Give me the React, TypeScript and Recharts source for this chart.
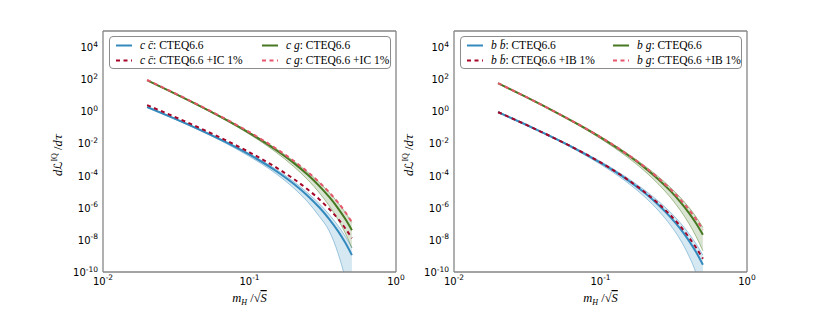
import React from 'react';
import { ComposedChart, Line, Area, XAxis, YAxis, Legend } from 'recharts';

// ---------- data ----------
const X = [0.02, 0.03, 0.04, 0.05, 0.07, 0.1, 0.15, 0.2, 0.25, 0.3, 0.35, 0.4, 0.45, 0.5];

// left panel: c cbar and c g
const CC = [1.862, 0.394, 0.125, 0.0493, 0.0112, 2.0e-3, 2.084e-4, 3.097e-5, 5.445e-6, 1.028e-6, 1.982e-7, 3.75e-8, 6.76e-9, 1.122e-9];
const CC_IC = [2.455, 0.505, 0.1589, 0.0631, 0.01476, 2.825e-3, 3.459e-4, 6.252e-5, 1.368e-5, 3.296e-6, 8.34e-7, 2.123e-7, 5.31e-8, 1.265e-8];
const CC_HI = [1.95, 0.412, 0.1337, 0.0528, 0.01256, 2.344e-3, 2.624e-4, 4.276e-5, 8.24e-6, 1.746e-6, 3.776e-7, 8.2e-8, 1.698e-8, 3.162e-9];
const CC_LO = [1.778, 0.367, 0.1138, 0.044, 9.53e-3, 1.549e-3, 1.409e-4, 1.702e-5, 2.27e-6, 2.831e-7, 3.55e-8, 1.675e-9, 3.39e-11, 1.12e-13];
const CG = [85.3, 14.62, 4.036, 1.439, 0.2844, 0.04467, 4.236e-3, 6.18e-4, 1.112e-4, 2.223e-5, 4.667e-6, 9.89e-7, 2.037e-7, 3.981e-8];
const CG_IC = [89.1, 15.28, 4.217, 1.517, 0.3062, 0.0501, 5.19e-3, 8.34e-4, 1.675e-4, 3.793e-5, 9.1e-6, 2.228e-6, 5.41e-7, 1.259e-7];
const CG_HI = [87.3, 14.96, 4.178, 1.507, 0.3048, 0.04955, 5.09e-3, 8.15e-4, 1.644e-4, 3.69e-5, 8.89e-6, 2.163e-6, 5.24e-7, 1.202e-7];
const CG_LO = [83.4, 14.13, 3.855, 1.343, 0.2535, 0.03715, 3.069e-3, 3.724e-4, 5.445e-5, 8.45e-6, 1.315e-6, 1.972e-7, 2.685e-8, 3.162e-9];

// right panel: b bbar and b g
const BB = [0.8913, 0.169, 0.04966, 0.01854, 3.873e-3, 6.324e-4, 6.026e-5, 8.45e-6, 1.429e-6, 2.63e-7, 4.989e-8, 9.354e-9, 1.687e-9, 2.812e-10];
const BB_IB = [0.8913, 0.169, 0.04966, 0.01854, 3.963e-3, 6.622e-4, 6.457e-5, 9.484e-6, 1.718e-6, 3.467e-7, 7.211e-8, 1.517e-8, 3.214e-9, 6.745e-10];
const BB_HI = [0.9333, 0.177, 0.05321, 0.02032, 4.345e-3, 7.603e-4, 7.943e-5, 1.25e-5, 2.427e-6, 5.248e-7, 1.169e-7, 2.576e-8, 5.585e-9, 1.119e-9];
const BB_LO = [0.8511, 0.1596, 0.04634, 0.0169, 3.373e-3, 5.023e-4, 4.169e-5, 4.753e-6, 6.237e-7, 8.318e-8, 1.042e-8, 1.05e-9, 7.534e-11, 1.409e-12];
const BG = [56.4, 9.16, 2.427, 0.8414, 0.1592, 0.02404, 2.193e-3, 3.126e-4, 5.559e-5, 1.112e-5, 2.344e-6, 5.012e-7, 1.05e-7, 2.084e-8];
const BG_IB = [56.4, 9.16, 2.427, 0.8414, 0.1629, 0.02518, 2.35e-3, 3.508e-4, 6.683e-5, 1.432e-5, 3.311e-6, 7.943e-7, 1.866e-7, 4.256e-8];
const BG_HI = [57.7, 9.38, 2.512, 0.881, 0.1706, 0.02698, 2.636e-3, 4.121e-4, 8.22e-5, 1.845e-5, 4.467e-6, 1.096e-6, 2.636e-7, 5.875e-8];
const BG_LO = [55.1, 8.85, 2.317, 0.7852, 0.1419, 0.02, 1.589e-3, 1.928e-4, 2.786e-5, 4.426e-6, 7.079e-7, 1.096e-7, 1.589e-8, 2.084e-9];

// ticks
const X_MAJOR = [0.01, 0.1, 1];
const X_MINOR = [0.02, 0.03, 0.04, 0.05, 0.06, 0.07, 0.08, 0.09, 0.2, 0.3, 0.4, 0.5, 0.6, 0.7, 0.8, 0.9];
const Y_MAJOR = [1e-10, 1e-8, 1e-6, 1e-4, 1e-2, 1, 1e2, 1e4];
const X_DOMAIN = [0.01, 1];
const Y_DOMAIN = [1e-10, 1e5];

// ---------- styles ----------
const BLUE = '#348ABD';
const GREEN = '#467821';
const RED = '#A60628';
const PINK = '#E5566B';
const AXIS = '#858585';
const SANS = '"DejaVu Sans", sans-serif';
const SERIF = '"Liberation Serif", "DejaVu Serif", serif';
const DASH = '4 3.5';

const buildRows = (q, qx, qlo, qhi, g, gx, glo, ghi) =>
  X.map((x, i) => ({ x, q: q[i], qx: qx[i], qlo: qlo[i], qhi: qhi[i], g: g[i], gx: gx[i], glo: glo[i], ghi: ghi[i] }));

const LEFT_ROWS = buildRows(CC, CC_IC, CC_LO, CC_HI, CG, CG_IC, CG_LO, CG_HI);
const RIGHT_ROWS = buildRows(BB, BB_IB, BB_LO, BB_HI, BG, BG_IB, BG_LO, BG_HI);

const expOf = (v) => String(Math.round(Math.log10(v)));

const XTick = (props) => {
  const { x, y, payload } = props;
  return (
    <text x={x} y={y} dy="0.78em" textAnchor="middle" fontFamily={SANS} fontSize={10} fill="#000">
      10<tspan dy={-4.5} fontSize={7.5}>{expOf(payload.value)}</tspan>
    </text>
  );
};

const YTick = (props) => {
  const { x, y, payload } = props;
  return (
    <text x={x} y={y} dy="0.4em" textAnchor="end" fontFamily={SANS} fontSize={10} fill="#000">
      10<tspan dy={-4.5} fontSize={7.5}>{expOf(payload.value)}</tspan>
    </text>
  );
};

const YTitle = () => (
  <text transform="translate(62,155) rotate(-90)" textAnchor="middle" fontFamily={SERIF} fontSize={12.5} fill="#000">
    <tspan fontStyle="italic">d</tspan>
    <tspan fontFamily={SANS} fontSize={11.5}>ℒ</tspan>
    <tspan dy={-5} fontSize={8}>IQ</tspan>
    <tspan dy={5}> /</tspan>
    <tspan fontStyle="italic">d</tspan>
    <tspan fontFamily='"DejaVu Serif", serif' fontStyle="italic" fontSize={11.5}>τ</tspan>
  </text>
);

const XTitle = () => (
  <text x={249.5} y={302} textAnchor="middle" fontFamily={SERIF} fontSize={12.5} fill="#000">
    <tspan fontStyle="italic">m</tspan>
    <tspan dy={2.5} fontSize={8} fontStyle="italic">H</tspan>
    <tspan dy={-2.5}> /</tspan>
    <tspan>√</tspan>
    <tspan fontStyle="italic" style={{ textDecoration: 'overline' }}>S</tspan>
  </text>
);

const LegendBox = ({ items }) => (
  <div
    style={{
      position: 'relative',
      width: 282,
      height: 33,
      border: '1px solid #8c8c8c',
      borderRadius: 4,
      background: '#fff',
      boxSizing: 'border-box',
      fontFamily: SERIF,
      fontSize: 11.5,
      color: '#000',
    }}
  >
    {items.map((it, i) => {
      const col = Math.floor(i / 2);
      const row = i % 2;
      return (
        <div
          key={i}
          style={{
            position: 'absolute',
            left: col ? 152 : 6,
            top: row ? 16 : 0.5,
            height: 15,
            display: 'flex',
            alignItems: 'center',
            whiteSpace: 'nowrap',
            lineHeight: '15px',
          }}
        >
          <svg width={16} height={15} style={{ display: 'block' }}>
            <line x1={0} y1={7.5} x2={16} y2={7.5} stroke={it.color} strokeWidth={2} strokeDasharray={it.dashed ? DASH : undefined} />
          </svg>
          <span style={{ marginLeft: 8 }}>{it.label}</span>
        </div>
      );
    })}
  </div>
);

const mathPair = (a, b) => (
  <>
    <i>{a}</i>&nbsp;<i>{b}</i>
  </>
);

const LEFT_LEGEND = [
  { color: BLUE, dashed: false, label: <>{mathPair('c', 'c\u0304')}: CTEQ6.6</> },
  { color: RED, dashed: true, label: <>{mathPair('c', 'c\u0304')}: CTEQ6.6 +IC 1%</> },
  { color: GREEN, dashed: false, label: <>{mathPair('c', 'g')}: CTEQ6.6</> },
  { color: PINK, dashed: true, label: <>{mathPair('c', 'g')}: CTEQ6.6 +IC 1%</> },
];

const RIGHT_LEGEND = [
  { color: BLUE, dashed: false, label: <>{mathPair('b', 'b\u0304')}: CTEQ6.6</> },
  { color: RED, dashed: true, label: <>{mathPair('b', 'b\u0304')}: CTEQ6.6 +IB 1%</> },
  { color: GREEN, dashed: false, label: <>{mathPair('b', 'g')}: CTEQ6.6</> },
  { color: PINK, dashed: true, label: <>{mathPair('b', 'g')}: CTEQ6.6 +IB 1%</> },
];

const Panel = ({ rows, legend }) => (
  <ComposedChart width={415} height={312} data={rows} margin={{ top: 31, right: 19, bottom: 10, left: 43 }}>
    {/* label axes (used by the series) */}
    <XAxis
      xAxisId="x"
      dataKey="x"
      type="number"
      scale="log"
      domain={X_DOMAIN}
      allowDataOverflow
      ticks={X_MAJOR}
      interval={0}
      tickLine={false}
      axisLine={false}
      tickSize={0}
      tickMargin={5}
      height={30}
      tick={XTick}
      label={XTitle}
    />
    <YAxis
      yAxisId="y"
      type="number"
      scale="log"
      domain={Y_DOMAIN}
      allowDataOverflow
      ticks={Y_MAJOR}
      interval={0}
      tickLine={false}
      axisLine={false}
      tickSize={0}
      tickMargin={5}
      width={60}
      tick={YTick}
      label={YTitle}
    />
    {/* inward ticks and frame */}
    <XAxis xAxisId="xb" type="number" scale="log" domain={X_DOMAIN} allowDataOverflow ticks={X_MAJOR} interval={0} mirror orientation="bottom" tick={false} tickSize={4} height={10} axisLine={{ stroke: AXIS, strokeWidth: 1.3 }} tickLine={{ stroke: AXIS, strokeWidth: 1 }} />
    <XAxis xAxisId="xbm" type="number" scale="log" domain={X_DOMAIN} allowDataOverflow ticks={X_MINOR} interval={0} mirror orientation="bottom" tick={false} tickSize={2} height={10} axisLine={false} tickLine={{ stroke: AXIS, strokeWidth: 1 }} />
    <XAxis xAxisId="xt" type="number" scale="log" domain={X_DOMAIN} allowDataOverflow ticks={X_MAJOR} interval={0} mirror orientation="top" tick={false} tickSize={4} height={10} axisLine={{ stroke: AXIS, strokeWidth: 1.3 }} tickLine={{ stroke: AXIS, strokeWidth: 1 }} />
    <XAxis xAxisId="xtm" type="number" scale="log" domain={X_DOMAIN} allowDataOverflow ticks={X_MINOR} interval={0} mirror orientation="top" tick={false} tickSize={2} height={10} axisLine={false} tickLine={{ stroke: AXIS, strokeWidth: 1 }} />
    <YAxis yAxisId="yl" type="number" scale="log" domain={Y_DOMAIN} allowDataOverflow ticks={Y_MAJOR} interval={0} mirror orientation="left" tick={false} tickSize={4} width={10} axisLine={{ stroke: AXIS, strokeWidth: 1.3 }} tickLine={{ stroke: AXIS, strokeWidth: 1 }} />
    <YAxis yAxisId="yr" type="number" scale="log" domain={Y_DOMAIN} allowDataOverflow ticks={Y_MAJOR} interval={0} mirror orientation="right" tick={false} tickSize={4} width={10} axisLine={{ stroke: AXIS, strokeWidth: 1.3 }} tickLine={{ stroke: AXIS, strokeWidth: 1 }} />

    {/* uncertainty bands */}
    <Area xAxisId="x" yAxisId="y" type="monotone" dataKey={(d) => [d.qlo, d.qhi]} fill={BLUE} fillOpacity={0.2} stroke={BLUE} strokeOpacity={0.65} strokeWidth={0.7} dot={false} activeDot={false} isAnimationActive={false} legendType="none" />
    <Area xAxisId="x" yAxisId="y" type="monotone" dataKey={(d) => [d.glo, d.ghi]} fill={GREEN} fillOpacity={0.2} stroke={GREEN} strokeOpacity={0.65} strokeWidth={0.7} dot={false} activeDot={false} isAnimationActive={false} legendType="none" />

    {/* central curves */}
    <Line xAxisId="x" yAxisId="y" type="monotone" dataKey="q" stroke={BLUE} strokeWidth={2} dot={false} activeDot={false} isAnimationActive={false} />
    <Line xAxisId="x" yAxisId="y" type="monotone" dataKey="g" stroke={GREEN} strokeWidth={2} dot={false} activeDot={false} isAnimationActive={false} />
    <Line xAxisId="x" yAxisId="y" type="monotone" dataKey="qx" stroke={RED} strokeWidth={2} strokeDasharray={DASH} dot={false} activeDot={false} isAnimationActive={false} />
    <Line xAxisId="x" yAxisId="y" type="monotone" dataKey="gx" stroke={PINK} strokeWidth={2} strokeDasharray={DASH} dot={false} activeDot={false} isAnimationActive={false} />

    <Legend
      layout="vertical"
      verticalAlign="middle"
      align="center"
      wrapperStyle={{ left: 109, top: 36, width: 282, height: 33 }}
      content={() => <LegendBox items={legend} />}
    />
  </ComposedChart>
);

export default function App() {
  return (
    <div style={{ position: 'absolute', left: 0, top: 0, width: 830, height: 312, background: '#fff', overflow: 'hidden' }}>
      <div style={{ position: 'absolute', left: 0, top: 0 }}>
        <Panel rows={LEFT_ROWS} legend={LEFT_LEGEND} />
      </div>
      <div style={{ position: 'absolute', left: 351, top: 0 }}>
        <Panel rows={RIGHT_ROWS} legend={RIGHT_LEGEND} />
      </div>
    </div>
  );
}
